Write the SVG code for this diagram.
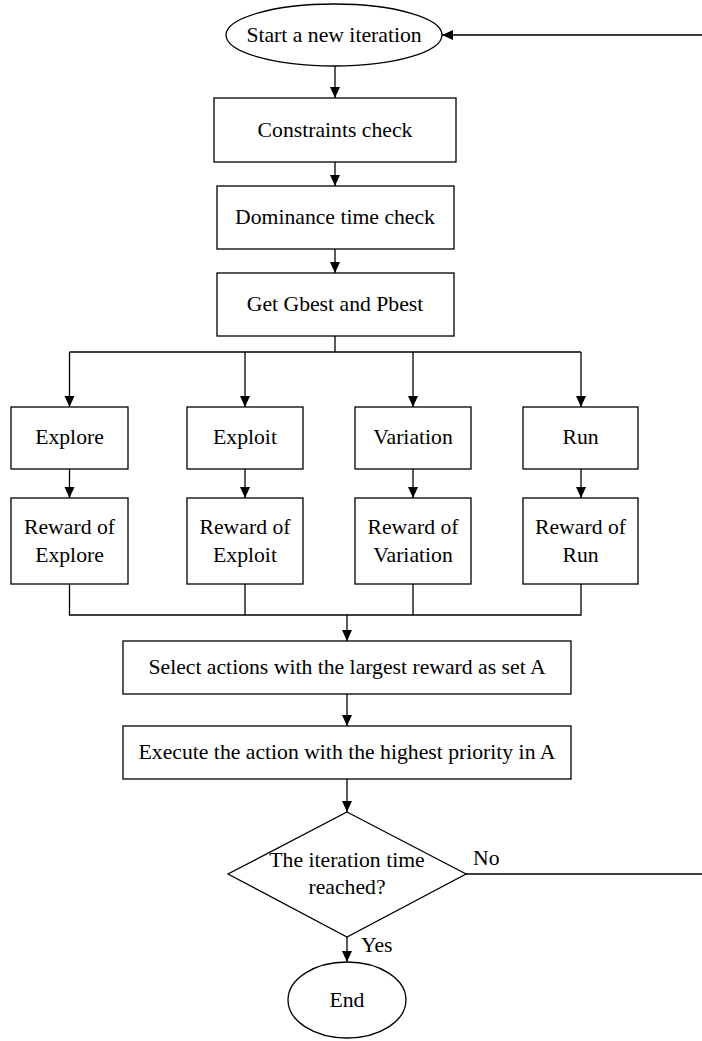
<svg xmlns="http://www.w3.org/2000/svg" width="702" height="1041" viewBox="0 0 702 1041">
<style>
.s{fill:#fff;stroke:#000;stroke-width:1.3}
.t{font-family:"Liberation Serif","Times New Roman",serif;font-size:21.7px;fill:#000;text-anchor:middle}
.l{font-family:"Liberation Serif","Times New Roman",serif;font-size:21.7px;fill:#000}
.c{fill:none;stroke:#000;stroke-width:1.3}
</style>
<defs>
<marker id="a" markerUnits="userSpaceOnUse" markerWidth="11" markerHeight="11" refX="11" refY="5" orient="auto">
<path d="M0,0 L11,5 L0,10 z" fill="#000"/>
</marker>
</defs>
<rect width="702" height="1041" fill="#fff"/>
<g id="connectors">
<path class="c" d="M335,66 V98" marker-end="url(#a)"/>
<path class="c" d="M335,162 V186" marker-end="url(#a)"/>
<path class="c" d="M335,249 V273" marker-end="url(#a)"/>
<path class="c" d="M335,336 V352 M69.5,352 H581"/>
<path class="c" d="M69.5,352 V407" marker-end="url(#a)"/>
<path class="c" d="M245,352 V407" marker-end="url(#a)"/>
<path class="c" d="M413,352 V407" marker-end="url(#a)"/>
<path class="c" d="M581,352 V407" marker-end="url(#a)"/>
<path class="c" d="M69.5,469 V498" marker-end="url(#a)"/>
<path class="c" d="M245,469 V498" marker-end="url(#a)"/>
<path class="c" d="M413,469 V498" marker-end="url(#a)"/>
<path class="c" d="M581,469 V498" marker-end="url(#a)"/>
<path class="c" d="M69.5,584 V615 H581 V584 M245,584 V615 M413,584 V615"/>
<path class="c" d="M347,615 V641" marker-end="url(#a)"/>
<path class="c" d="M347,694 V726" marker-end="url(#a)"/>
<path class="c" d="M347,779 V812" marker-end="url(#a)"/>
<path class="c" d="M347,937 V962" marker-end="url(#a)"/>
<path class="c" d="M466,874 H704 V35 H442" marker-end="url(#a)"/>
<text class="l" x="473" y="865">No</text>
<text class="l" x="361" y="952">Yes</text>
</g>
<g id="start">
<ellipse class="s" cx="334" cy="35" rx="108" ry="31"/>
<text class="t" x="334" y="42">Start a new iteration</text>
</g>
<g id="constraints">
<rect class="s" x="214" y="98" width="242" height="64"/>
<text class="t" x="335" y="137">Constraints check</text>
</g>
<g id="dominance">
<rect class="s" x="217" y="186" width="237" height="63"/>
<text class="t" x="335" y="224">Dominance time check</text>
</g>
<g id="gbest">
<rect class="s" x="217" y="273" width="237" height="63"/>
<text class="t" x="335" y="311">Get Gbest and Pbest</text>
</g>
<g id="explore">
<rect class="s" x="11" y="407" width="117" height="62"/>
<text class="t" x="69.5" y="444">Explore</text>
</g>
<g id="exploit">
<rect class="s" x="187" y="407" width="116" height="62"/>
<text class="t" x="245" y="444">Exploit</text>
</g>
<g id="variation">
<rect class="s" x="355" y="407" width="116" height="62"/>
<text class="t" x="413" y="444">Variation</text>
</g>
<g id="run">
<rect class="s" x="523" y="407" width="115" height="62"/>
<text class="t" x="580.5" y="444">Run</text>
</g>
<g id="reward-explore">
<rect class="s" x="11" y="498" width="117" height="86"/>
<text class="t" x="69.5" y="534">Reward of</text>
<text class="t" x="69.5" y="562">Explore</text>
</g>
<g id="reward-exploit">
<rect class="s" x="187" y="498" width="116" height="86"/>
<text class="t" x="245" y="534">Reward of</text>
<text class="t" x="245" y="562">Exploit</text>
</g>
<g id="reward-variation">
<rect class="s" x="355" y="498" width="116" height="86"/>
<text class="t" x="413" y="534">Reward of</text>
<text class="t" x="413" y="562">Variation</text>
</g>
<g id="reward-run">
<rect class="s" x="523" y="498" width="115" height="86"/>
<text class="t" x="580.5" y="534">Reward of</text>
<text class="t" x="580.5" y="562">Run</text>
</g>
<g id="select">
<rect class="s" x="123" y="641" width="448" height="53"/>
<text class="t" x="347" y="674">Select actions with the largest reward as set A</text>
</g>
<g id="execute">
<rect class="s" x="123" y="726" width="448" height="53"/>
<text class="t" x="347" y="759">Execute the action with the highest priority in A</text>
</g>
<g id="decision">
<polygon class="s" points="347,812 466,874 347,937 228,874"/>
<text class="t" x="347" y="867">The iteration time</text>
<text class="t" x="347" y="894">reached?</text>
</g>
<g id="end">
<ellipse class="s" cx="347" cy="1000" rx="59" ry="38"/>
<text class="t" x="347" y="1007">End</text>
</g>
</svg>
